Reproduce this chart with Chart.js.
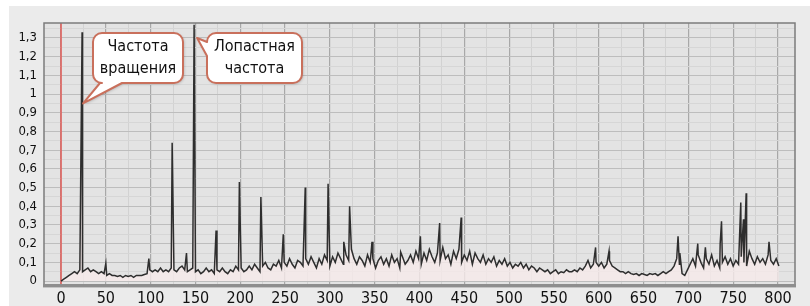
<!DOCTYPE html>
<html><head><meta charset="utf-8">
<script src="https://cdn.jsdelivr.net/npm/chart.js@4/dist/chart.umd.min.js"></script>
<style>html,body{margin:0;padding:0;background:#fff;}#wrap{width:810px;height:306px;position:relative}</style>
</head><body><div id="wrap"><canvas id="c" width="810" height="306"></canvas></div>
<script>
// ---- data ----
const BASE_START = 0, BASE_STEP = 3;
const baseline = [
 0.00,0.01,0.02,0.03,0.04,0.05,0.04,0.06,0.05,0.06,
 0.07,0.05,0.06,0.05,0.04,0.05,0.04,0.03,0.04,0.03,
 0.03,0.025,0.03,0.02,0.03,0.025,0.03,0.02,0.03,0.03,
 0.03,0.035,0.04,0.06,0.05,0.06,0.05,0.07,0.05,0.06,
 0.05,0.07,0.06,0.05,0.07,0.08,0.06,0.05,0.06,0.07,
 0.05,0.06,0.04,0.05,0.07,0.05,0.06,0.04,0.06,0.05,
 0.07,0.05,0.04,0.06,0.05,0.08,0.06,0.07,0.05,0.06,
 0.08,0.06,0.09,0.07,0.05,0.08,0.10,0.07,0.06,0.09,
 0.08,0.11,0.07,0.10,0.08,0.12,0.09,0.07,0.11,0.10,
 0.08,0.12,0.09,0.13,0.10,0.07,0.12,0.09,0.14,0.11,
 0.08,0.13,0.10,0.15,0.12,0.09,0.14,0.11,0.17,0.12,
 0.09,0.13,0.11,0.08,0.14,0.10,0.12,0.07,0.11,0.13,
 0.09,0.12,0.08,0.14,0.10,0.12,0.07,0.13,0.09,0.11,
 0.14,0.10,0.16,0.12,0.09,0.15,0.11,0.17,0.13,0.10,
 0.15,0.11,0.18,0.12,0.14,0.09,0.16,0.12,0.17,0.10,
 0.14,0.11,0.16,0.09,0.15,0.12,0.10,0.14,0.09,0.12,
 0.10,0.13,0.08,0.11,0.09,0.12,0.08,0.10,0.07,0.09,
 0.08,0.10,0.07,0.09,0.06,0.08,0.07,0.05,0.07,0.06,
 0.05,0.06,0.04,0.05,0.06,0.04,0.05,0.045,0.06,0.05,
 0.05,0.06,0.05,0.07,0.06,0.08,0.11,0.07,0.09,0.10,
 0.08,0.10,0.07,0.09,0.11,0.08,0.07,0.06,0.05,0.05,
 0.04,0.05,0.04,0.035,0.04,0.03,0.04,0.035,0.03,0.04,
 0.035,0.04,0.03,0.04,0.05,0.04,0.05,0.06,0.08,0.12,
 0.09,0.04,0.03,0.06,0.09,0.12,0.08,0.14,0.10,0.07,
 0.12,0.09,0.14,0.08,0.11,0.07,0.10,0.13,0.09,0.12,
 0.08,0.11,0.09,0.13,0.10,0.08,0.16,0.12,0.09,0.13,
 0.10,0.12,0.09,0.14,0.11,0.09,0.12,0.08
];
const spikeX = [23.5,50,98,124,140,148.5,173,199,223,248,272.5,298,315.5,322,347,379,401,422.5,446.5,596.5,611.5,688.5,690.5,710.5,719,735.5,737,758.5,761.5,764.5,790];
const spikeY = [1.33,0.095,0.12,0.74,0.15,1.37,0.27,0.53,0.45,0.25,0.50,0.52,0.21,0.40,0.21,0.155,0.24,0.31,0.34,0.18,0.16,0.24,0.15,0.20,0.18,0.20,0.32,0.42,0.33,0.47,0.21];
const xTickValues = [0,50,100,150,200,250,300,350,400,450,500,550,600,650,700,750,800];
const xTickLabels = ['0','50','100','150','200','250','300','350','400','450','500','550','600','650','700','750','800'];
const yTickValues = [0,0.1,0.2,0.3,0.4,0.5,0.6,0.7,0.8,0.9,1,1.1,1.2,1.3];
const yTickLabels = ['0','0,1','0,2','0,3','0,4','0,5','0,6','0,7','0,8','0,9','1','1,1','1,2','1,3'];
const markerX = 0;
const calloutTexts = [['Частота','вращения'],['Лопастная','частота']];
const calloutAnchorX = [23.5,148.5];
const calloutAnchorY = [0.95,1.3];

// ---- build ----
const points = baseline.map((y,i)=>({x:BASE_START+i*BASE_STEP,y}));
spikeX.forEach((x,i)=>points.push({x,y:spikeY[i]}));
points.sort((a,b)=>a.x-b.x);

const FONT = "'Liberation Sans Narrow','DejaVu Sans Condensed',sans-serif";
const xTicks = [];
for (let i=0;i<xTickValues.length;i++){ xTicks.push({value:xTickValues[i],isMajor:true}); if(i<xTickValues.length-1) xTicks.push({value:(xTickValues[i]+xTickValues[i+1])/2,isMajor:false}); }
const yTicks = [];
for (let i=0;i<yTickValues.length;i++){ yTicks.push({value:yTickValues[i],isMajor:true}); yTicks.push({value:yTickValues[i]+0.05,isMajor:false}); }

const styleCallouts = [
  {box:[93,33,183,83], edge:'bottom', t1:100, t2:122, dx:1, dy:0},
  {box:[207,33,302,83], edge:'left', t1:42, t2:56, dx:3, dy:0}
];

function calloutPath(ctx, b, st, tip){
  const [x0,y0,x1,y1]=b, r=9;
  ctx.beginPath();
  ctx.moveTo(x0+r,y0);
  ctx.lineTo(x1-r,y0); ctx.arcTo(x1,y0,x1,y0+r,r);
  ctx.lineTo(x1,y1-r); ctx.arcTo(x1,y1,x1-r,y1,r);
  if(st.edge==='bottom'){ ctx.lineTo(st.t2,y1); ctx.lineTo(tip.x,tip.y); ctx.lineTo(st.t1,y1); }
  ctx.lineTo(x0+r,y1); ctx.arcTo(x0,y1,x0,y1-r,r);
  if(st.edge==='left'){ ctx.lineTo(x0,st.t2); ctx.lineTo(tip.x,tip.y); ctx.lineTo(x0,st.t1); }
  ctx.lineTo(x0,y0+r); ctx.arcTo(x0,y0,x0+r,y0,r);
  ctx.closePath();
}

const bgPlugin = {
  id:'bg',
  beforeDraw(chart){
    const ctx=chart.ctx, a=chart.chartArea;
    ctx.save();
    ctx.fillStyle='#ffffff'; ctx.fillRect(0,0,chart.width,chart.height);
    ctx.fillStyle='#ebebeb'; ctx.fillRect(9,6,chart.width-9,chart.height-6);
    ctx.fillStyle='#e3e3e3'; ctx.fillRect(a.left,a.top,a.right-a.left,a.bottom-a.top);
    ctx.restore();
  },
  beforeDatasetsDraw(chart){
    const ctx=chart.ctx, a=chart.chartArea, xs=chart.scales.x;
    const px=xs.getPixelForValue(markerX);
    ctx.save(); ctx.strokeStyle='#e0625e'; ctx.lineWidth=1.6;
    ctx.beginPath(); ctx.moveTo(px,a.top); ctx.lineTo(px,a.bottom); ctx.stroke(); ctx.restore();
  },
  afterDraw(chart){
    const ctx=chart.ctx, a=chart.chartArea, xs=chart.scales.x, ys=chart.scales.y;
    ctx.save();
    ctx.strokeStyle='#7c7c7c'; ctx.lineWidth=1.5;
    ctx.beginPath(); ctx.moveTo(a.left,a.bottom); ctx.lineTo(a.left,a.top); ctx.lineTo(a.right,a.top); ctx.lineTo(a.right,a.bottom); ctx.stroke();
    ctx.fillStyle='#8e8e8e'; ctx.fillRect(a.left-1,a.bottom-1,a.right-a.left+2,3);
    ctx.fillStyle='#c4c4c4'; ctx.fillRect(a.left-1,a.bottom+2,a.right-a.left+2,1);
    styleCallouts.forEach((st,i)=>{
      const tip={x:xs.getPixelForValue(calloutAnchorX[i])+st.dx, y:ys.getPixelForValue(calloutAnchorY[i])+st.dy};
      ctx.save();
      ctx.shadowColor='rgba(0,0,0,0.25)'; ctx.shadowBlur=3; ctx.shadowOffsetX=1; ctx.shadowOffsetY=1;
      calloutPath(ctx,st.box,st,tip);
      ctx.fillStyle='#ffffff'; ctx.fill();
      ctx.restore();
      calloutPath(ctx,st.box,st,tip);
      ctx.strokeStyle='#c9705c'; ctx.lineWidth=2; ctx.lineJoin='round'; ctx.stroke();
      ctx.fillStyle='#111'; ctx.font='16px '+FONT; ctx.textAlign='center'; ctx.textBaseline='middle';
      const cx=(st.box[0]+st.box[2])/2;
      ctx.fillText(calloutTexts[i][0],cx,st.box[1]+14);
      ctx.fillText(calloutTexts[i][1],cx,st.box[1]+36);
    });
    ctx.restore();
  }
};

new Chart(document.getElementById('c').getContext('2d'),{
  type:'line',
  data:{datasets:[{data:points,borderColor:'#2e2e2e',borderWidth:1.5,pointRadius:0,tension:0,fill:'origin',backgroundColor:'rgba(246,234,234,0.8)'}]},
  options:{
    responsive:false, animation:false,
    layout:{padding:{left:0,top:23,right:15,bottom:0}},
    plugins:{legend:{display:false},tooltip:{enabled:false}},
    scales:{
      x:{type:'linear',min:-19,max:819,
        afterBuildTicks:s=>{s.ticks=xTicks.map(t=>({...t}));},
        afterFit:s=>{s.height=21;},
        ticks:{autoSkip:false,maxRotation:0,padding:4,color:'#111',font:{family:FONT,size:16},
          callback:(v)=>{const i=xTickValues.indexOf(v);return i>=0?xTickLabels[i]:'';}},
        grid:{drawTicks:false,color:c=>(c.tick&&c.tick.isMajor)?'#a8a8a8':'#d2d2d2',lineWidth:c=>(c.tick&&c.tick.isMajor)?1.2:1},
        border:{display:false}},
      y:{type:'linear',min:-0.021,max:1.38,
        afterBuildTicks:s=>{s.ticks=yTicks.map(t=>({...t}));},
        afterFit:s=>{s.width=44;},
        ticks:{autoSkip:false,padding:7,color:'#111',font:{family:FONT,size:13},
          callback:(v)=>{const i=yTickValues.findIndex(t=>Math.abs(t-v)<1e-9);return i>=0?yTickLabels[i]:'';}},
        grid:{drawTicks:false,color:c=>(c.tick&&c.tick.isMajor)?'#bdbdbd':'#d6d6d6'},
        border:{display:false}}
    }
  },
  plugins:[bgPlugin]
});
</script></body></html>
